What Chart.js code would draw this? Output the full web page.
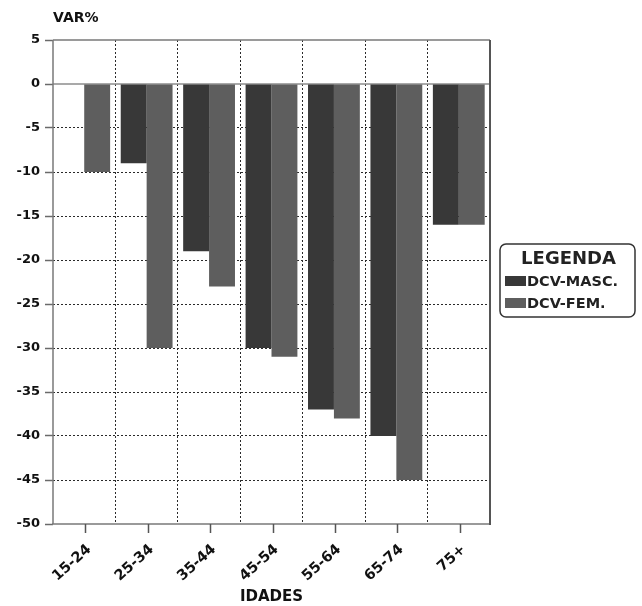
<!DOCTYPE html>
<html>
<head>
<meta charset="utf-8">
<script src="https://cdn.jsdelivr.net/npm/chart.js@4/dist/chart.umd.min.js"></script>
<style>
  html, body { margin: 0; padding: 0; background: #ffffff; }
  canvas { display: block; }
</style>
</head>
<body>
<canvas id="chart" width="642" height="606"></canvas>
<script>
// Age groups and percentage variation per series
const AGE_GROUPS = ['15-24', '25-34', '35-44', '45-54', '55-64', '65-74', '75+'];
const DCV_MASC = [0, -9, -19, -30, -37, -40, -16];
const DCV_FEM = [-10, -30, -23, -31, -38, -45, -16];
const SERIES_NAMES = ['DCV-MASC.', 'DCV-FEM.'];
const SERIES_COLORS = ['#383838', '#5e5e5e'];
const Y_MIN = -50, Y_MAX = 5, Y_STEP = 5;

const FONT = "'DejaVu Sans', 'Liberation Sans', Arial, sans-serif";
const FRAME = '#7a7a7a';

// Frame, zero line, centred tick marks, axis heading and the boxed legend
const decor = {
  id: 'decor',
  beforeDatasetsDraw(chart) {
    const { ctx, chartArea: a, scales: { y } } = chart;
    const y0 = y.getPixelForValue(0);
    ctx.save();
    ctx.strokeStyle = '#8c8c8c';
    ctx.lineWidth = 1.5;
    ctx.beginPath();
    ctx.moveTo(a.left, y0);
    ctx.lineTo(a.right, y0);
    ctx.stroke();
    ctx.restore();
  },
  afterDraw(chart) {
    const { ctx, chartArea: a, scales: { x } } = chart;
    ctx.save();
    // plot frame
    ctx.lineWidth = 1.5;
    ctx.strokeStyle = FRAME;
    ctx.beginPath();
    ctx.moveTo(a.left, a.top); ctx.lineTo(a.right, a.top);
    ctx.moveTo(a.left, a.top); ctx.lineTo(a.left, a.bottom);
    ctx.moveTo(a.left - 1, a.bottom); ctx.lineTo(a.right, a.bottom);
    ctx.stroke();
    ctx.strokeStyle = '#555';
    ctx.lineWidth = 2;
    ctx.beginPath();
    ctx.moveTo(a.right, a.top); ctx.lineTo(a.right, a.bottom + 1);
    ctx.stroke();

    // tick marks at the centre of each age group
    ctx.strokeStyle = '#555';
    ctx.lineWidth = 1.5;
    ctx.beginPath();
    AGE_GROUPS.forEach((_, i) => {
      const px = Math.round(x.getPixelForValue(i)) + 1.5;
      ctx.moveTo(px, a.bottom);
      ctx.lineTo(px, a.bottom + 9);
    });
    ctx.stroke();

    // y heading
    ctx.fillStyle = '#111';
    ctx.font = 'bold 14px ' + FONT;
    ctx.textAlign = 'left';
    ctx.textBaseline = 'middle';
    ctx.fillText('VAR%', a.left, 18);

    // legend
    const lx = 500, ly = 244, lw = 135, lh = 73;
    ctx.strokeStyle = '#333';
    ctx.lineWidth = 1.5;
    ctx.beginPath();
    ctx.roundRect(lx, ly, lw, lh, 6);
    ctx.stroke();
    ctx.fillStyle = '#222';
    ctx.font = 'bold 18px ' + FONT;
    ctx.textAlign = 'center';
    ctx.fillText('LEGENDA', lx + lw / 2 + 1, ly + 15);
    ctx.font = 'bold 14.5px ' + FONT;
    ctx.textAlign = 'left';
    chart.data.datasets.forEach((ds, i) => {
      const cy = ly + 37 + i * 22;
      ctx.fillStyle = ds.backgroundColor;
      ctx.fillRect(lx + 5, cy - 5, 21, 10);
      ctx.fillStyle = '#222';
      ctx.fillText(ds.label, lx + 27, cy + 1);
    });
    ctx.restore();
  }
};

new Chart(document.getElementById('chart'), {
  type: 'bar',
  data: {
    labels: AGE_GROUPS,
    datasets: [
      { label: SERIES_NAMES[0], data: DCV_MASC, backgroundColor: SERIES_COLORS[0], borderWidth: 0 },
      { label: SERIES_NAMES[1], data: DCV_FEM, backgroundColor: SERIES_COLORS[1], borderWidth: 0 }
    ]
  },
  options: {
    responsive: false,
    animation: false,
    devicePixelRatio: 1,
    layout: { padding: { top: 40, right: 152, left: 0, bottom: 0 } },
    datasets: { bar: { barPercentage: 1.0, categoryPercentage: 0.83 } },
    plugins: { legend: { display: false }, tooltip: { enabled: false } },
    scales: {
      x: {
        offset: true,
        afterFit(scale) { scale.height = 82; },
        grid: {
          offset: true,
          drawTicks: false,
          lineWidth: 1,
          color: (c) => (c.index === 0 || c.index >= AGE_GROUPS.length) ? 'rgba(0,0,0,0)' : '#2a2a2a'
        },
        border: { display: false, dash: [2, 2] },
        ticks: {
          autoSkip: false,
          maxRotation: 42,
          minRotation: 42,
          padding: 17,
          labelOffset: 5,
          color: '#111',
          font: { family: FONT, size: 14.5, weight: 'bold' }
        },
        title: {
          display: true,
          text: 'IDADES',
          color: '#111',
          padding: { top: 0, bottom: 0 },
          font: { family: FONT, size: 15, weight: 'bold' }
        }
      },
      y: {
        min: Y_MIN,
        max: Y_MAX,
        afterFit(scale) { scale.width = 53; },
        grid: {
          lineWidth: 1,
          drawTicks: true,
          tickLength: 8,
          tickColor: '#6a6a6a',
          tickWidth: 1.5,
          tickBorderDash: [],
          color: (c) => {
            const v = c.tick ? c.tick.value : null;
            return (v === Y_MAX || v === 0 || v === Y_MIN) ? 'rgba(0,0,0,0)' : '#2a2a2a';
          }
        },
        border: { display: false, dash: [2, 2] },
        ticks: {
          stepSize: Y_STEP,
          padding: 5,
          color: '#111',
          font: { family: FONT, size: 13, weight: 'bold' }
        }
      }
    }
  },
  plugins: [decor]
});
</script>
</body>
</html>
